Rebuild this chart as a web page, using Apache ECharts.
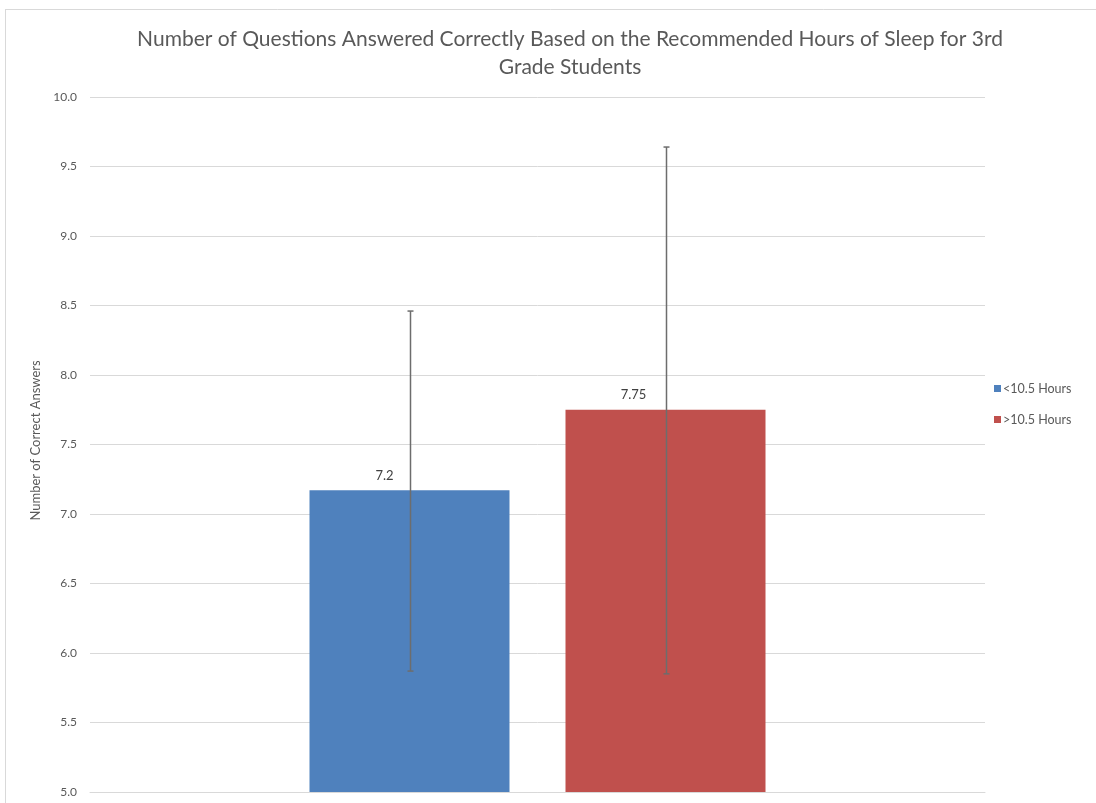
<!DOCTYPE html>
<html>
<head>
<meta charset="utf-8">
<script src="https://cdn.jsdelivr.net/npm/echarts@6/dist/echarts.min.js"></script>
<style>html,body{margin:0;padding:0;background:#fff}#c{width:1096px;height:803px}</style>
</head>
<body>
<div id="c"></div>
<script>
const titleText = 'Number of Questions Answered Correctly Based on the Recommended Hours of Sleep for 3rd\nGrade Students';
const categories = [''];
const seriesNames = ['<10.5 Hours', '>10.5 Hours'];
const lessValues = [7.17];
const moreValues = [7.75];
const lessLabels = ['7.2'];
const moreLabels = ['7.75'];
const lessErr = [[5.87, 8.46]];
const moreErr = [[5.85, 9.64]];
const yTicks = [5.0, 10.0, 0.5];

const BAR_W = 200, GAP = 56;
const colors = ['#4f81bd', '#c0504d'];
const font = 'Lato, "Open Sans", sans-serif';

function errSeries(errs, sign) {
  return {
    type: 'custom',
    z: 5,
    silent: true,
    data: errs.map((e, i) => [i, e[0], e[1]]),
    renderItem: function (params, api) {
      const lo = api.coord([api.value(0), api.value(1)]);
      const hi = api.coord([api.value(0), api.value(2)]);
      const x = Math.round(lo[0] + sign * (BAR_W + GAP) / 2) + 0.5;
      const st = { stroke: '#6d6d6d', lineWidth: 1.5 };
      return {
        type: 'group',
        children: [
          { type: 'line', shape: { x1: x, y1: lo[1], x2: x, y2: hi[1] }, style: st },
          { type: 'line', shape: { x1: x - 3, y1: lo[1], x2: x + 3, y2: lo[1] }, style: st },
          { type: 'line', shape: { x1: x - 3, y1: hi[1], x2: x + 3, y2: hi[1] }, style: st }
        ]
      };
    }
  };
}

const chart = echarts.init(document.getElementById('c'));
chart.setOption({
  animation: false,
  backgroundColor: '#fff',
  textStyle: { fontFamily: font },
  title: {
    text: titleText,
    left: 565,
    textAlign: 'center',
    top: 20,
    textStyle: { fontFamily: font, fontSize: 21, fontWeight: 'normal', color: '#595959', lineHeight: 28 }
  },
  legend: {
    orient: 'vertical',
    left: 989,
    top: 377,
    itemWidth: 7,
    itemHeight: 7,
    itemGap: 18,
    icon: 'rect',
    data: seriesNames,
    textStyle: { fontFamily: font, fontSize: 12.5, color: '#595959', padding: [0, 0, 0, -3] }
  },
  grid: { left: 90, right: 111, top: 97, bottom: 11 },
  xAxis: {
    type: 'category',
    data: categories,
    axisLine: { show: true, lineStyle: { color: '#d9d9d9' } },
    axisTick: { show: false },
    axisLabel: { show: false }
  },
  yAxis: {
    type: 'value',
    min: yTicks[0],
    max: yTicks[1],
    interval: yTicks[2],
    name: 'Number of Correct Answers',
    nameLocation: 'middle',
    nameGap: 45,
    nameTextStyle: { fontFamily: font, fontSize: 13, color: '#595959', padding: [0, 0, 0, 8] },
    axisLine: { show: false },
    axisTick: { show: false },
    axisLabel: { formatter: v => v.toFixed(1), color: '#595959', fontSize: 12, fontFamily: font, margin: 13 },
    splitLine: { lineStyle: { color: '#d9d9d9', width: 1 } }
  },
  series: [
    {
      name: seriesNames[0], type: 'bar', data: lessValues, barWidth: BAR_W, barGap: (GAP / BAR_W * 100) + '%',
      itemStyle: { color: colors[0] },
      label: { show: true, position: 'top', distance: 8, offset: [-25, 0], formatter: p => lessLabels[p.dataIndex], color: '#404040', fontSize: 13, fontFamily: font }
    },
    {
      name: seriesNames[1], type: 'bar', data: moreValues, barWidth: BAR_W,
      itemStyle: { color: colors[1] },
      label: { show: true, position: 'top', distance: 8, offset: [-32, 0], formatter: p => moreLabels[p.dataIndex], color: '#404040', fontSize: 13, fontFamily: font }
    },
    errSeries(lessErr, -1),
    errSeries(moreErr, 1)
  ],
  graphic: [
    { type: 'line', shape: { x1: 5, y1: 9.5, x2: 1096, y2: 9.5 }, style: { stroke: '#d9d9d9', lineWidth: 1 } },
    { type: 'line', shape: { x1: 5.5, y1: 9, x2: 5.5, y2: 803 }, style: { stroke: '#d9d9d9', lineWidth: 1 } }
  ]
});
</script>
</body>
</html>
